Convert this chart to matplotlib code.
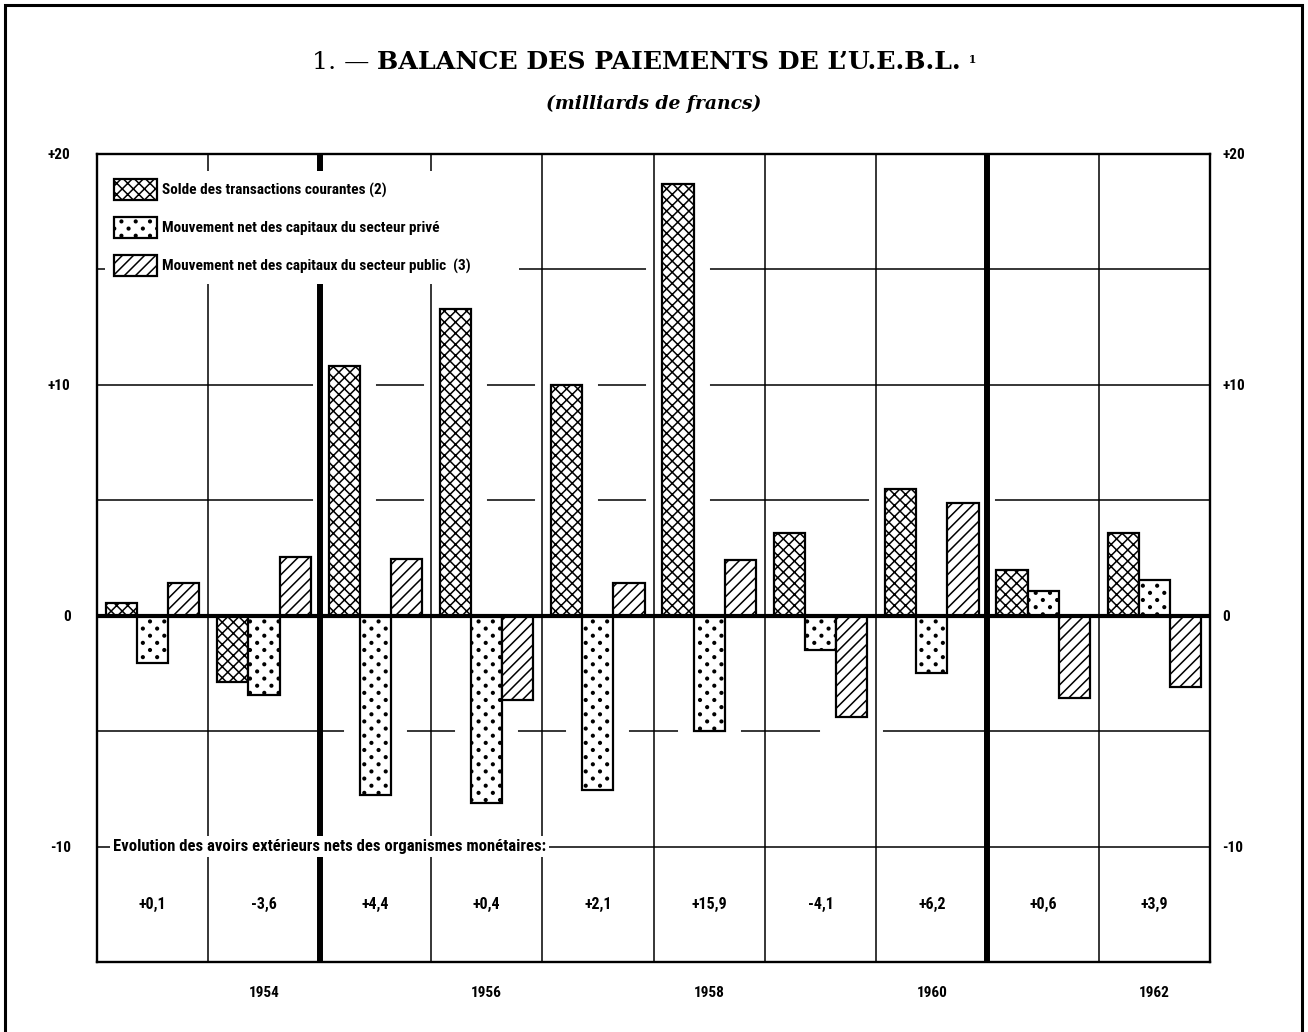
import matplotlib
matplotlib.use("Agg")
import matplotlib.pyplot as plt
import matplotlib.transforms as mtransforms
from matplotlib import hatch as mhatch
from matplotlib.path import Path
from matplotlib.patches import Rectangle

# Balance des paiements de l'U.E.B.L., en milliards de francs
annees = [1953, 1954, 1955, 1956, 1957, 1958, 1959, 1960, 1961, 1962]
transactions = [0.55, -2.85, 10.8, 13.3, 10.0, 18.7, 3.6, 5.5, 2.0, 3.6]
capitaux_prives = [-2.05, -3.45, -7.75, -8.1, -7.55, -5.0, -1.5, -2.5, 1.05, 1.55]
capitaux_publics = [1.4, 2.55, 2.45, -3.65, 1.4, 2.4, -4.4, 4.9, -3.55, -3.1]
avoirs_nets = ['+0,1', '-3,6', '+4,4', '+0,4', '+2,1', '+15,9', '-4,1', '+6,2', '+0,6', '+3,9']

libelles = ['Solde des transactions courantes (2)',
            'Mouvement net des capitaux du secteur privé',
            'Mouvement net des capitaux du secteur public  (3)']
motifs = ['xxx', '.', '///']

annees_affichees = [1954, 1956, 1958, 1960, 1962]
graduations = [-10, 0, 10, 20]
libelles_graduations = ['-10', '0', '+10', '+20']
quadrillage = [15, 10, 5, -5, -10]
separations_fortes = [1954.5, 1960.5]


class PointsQuinconce(mhatch.HatchPatternBase):
    """Trame de points pleins en quinconce, rangées resserrées."""

    def __init__(self, hatch, density):
        n = hatch.count('.') * 7
        self.rayon = 0.013
        self.cercle = Path.unit_circle()
        self.centres = []
        if n:
            for rang in range(2 * n + 1):
                y = rang / (2 * n)
                if rang % 2 == 0:
                    xs = [k / n for k in range(n + 1)]
                else:
                    xs = [(k + 0.5) / n for k in range(n)]
                self.centres += [(x, y) for x in xs]
        self.num_vertices = len(self.centres) * len(self.cercle.vertices)

    def set_vertices_and_codes(self, vertices, codes):
        nv = len(self.cercle.vertices)
        for i, (x, y) in enumerate(self.centres):
            vertices[i * nv:(i + 1) * nv] = self.cercle.vertices * self.rayon + (x, y)
            codes[i * nv:(i + 1) * nv] = self.cercle.codes


mhatch._hatch_types = [PointsQuinconce if t is mhatch.SmallFilledCircles else t
                       for t in mhatch._hatch_types]

plt.rcParams['font.family'] = ['Roboto Condensed', 'DejaVu Sans']
plt.rcParams['font.weight'] = 'bold'
plt.rcParams['hatch.linewidth'] = 1.1

fig = plt.figure(figsize=(13.08, 10.32), dpi=100)
ax = fig.add_axes([0.0742, 0.0678, 0.8509, 0.783])
ax.set_xlim(1952.5, 1962.5)
ax.set_ylim(-15, 20)

# quadrillage horizontal, interrompu autour des barres par un fond blanc
for y in quadrillage:
    ax.axhline(y, color='black', lw=1.1, zorder=1)
for a in annees[:-1]:
    b = a + 0.5
    ax.axvline(b, color='black', lw=4.3 if b in separations_fortes else 1.1, zorder=2.5)

largeur = 0.28
for i, valeurs in enumerate([transactions, capitaux_prives, capitaux_publics]):
    x = [a + (i - 1) * largeur for a in annees]
    ax.bar(x, valeurs, largeur, color='white', edgecolor='white', linewidth=23,
           joinstyle='miter', zorder=2)
    ax.bar(x, valeurs, largeur, facecolor='white', edgecolor='black', linewidth=1.6,
           hatch=motifs[i], label=libelles[i], zorder=3)

ax.axhline(0, color='black', lw=3.0, zorder=4)

for s in ax.spines.values():
    s.set_linewidth(1.7)
    s.set_zorder(6)

ax.set_yticks(graduations, libelles_graduations)
ax.tick_params(axis='y', length=0, pad=19, labelsize=11)
droite = ax.secondary_yaxis('right')
droite.set_yticks(graduations, libelles_graduations)
droite.tick_params(axis='y', length=0, pad=9, labelsize=11)
droite.spines['right'].set_visible(False)

ax.set_xticks(annees_affichees, [str(a) for a in annees_affichees])
ax.tick_params(axis='x', length=0, pad=17, labelsize=11)

leg = ax.legend(loc='upper left', bbox_to_anchor=(0.002, 0.5, 0.383, 0.487),
                mode='expand', frameon=True, fancybox=False, edgecolor='none',
                framealpha=1, fontsize=11, handlelength=2.8, handleheight=1.7,
                labelspacing=1.15, borderpad=0.55, handletextpad=0.33,
                borderaxespad=0.4)
leg.set_zorder(7)

# avoirs extérieurs nets des organismes monétaires
melange = mtransforms.blended_transform_factory(ax.transAxes, ax.transData)
ax.text(0.014, -10, 'Evolution des avoirs extérieurs nets des organismes monétaires:',
        transform=melange, ha='left', va='center', fontsize=12, zorder=7,
        bbox=dict(facecolor='white', edgecolor='none', pad=2))
for a, v in zip(annees, avoirs_nets):
    ax.text(a, -12.5, v, ha='center', va='center', fontsize=11.5)

# titre
t1 = fig.text(0.2385, 0.933, '1. — ', family='DejaVu Serif', weight='normal',
              fontsize=18.2, va='baseline', ha='left')
t2 = ax.annotate('BALANCE DES PAIEMENTS DE L\u2019U.E.B.L.', xy=(1, 0), xycoords=t1,
                 family='DejaVu Serif', weight='bold', fontsize=18.2, va='bottom',
                 ha='left', annotation_clip=False)
ax.annotate('  1', xy=(1, 0.4), xycoords=t2, family='DejaVu Serif', weight='bold',
            fontsize=8, va='bottom', ha='left', annotation_clip=False)
fig.text(0.5, 0.899, '(milliards de francs)', family='DejaVu Serif', style='italic',
         weight='bold', fontsize=13.5, ha='center', va='center')

fig.add_artist(Rectangle((0.0038, -0.02), 0.9916, 1.015, transform=fig.transFigure,
                         fill=False, lw=2.2, edgecolor='black'))

fig.savefig('out.png', dpi=100)
